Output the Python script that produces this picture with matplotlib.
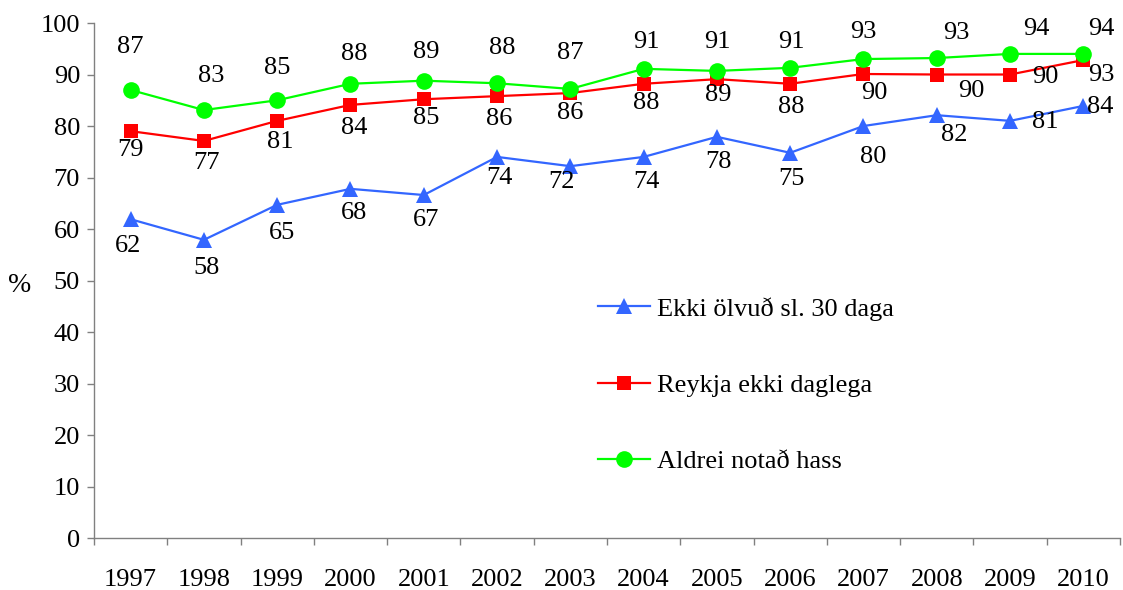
import matplotlib
matplotlib.use("Agg")
import matplotlib.pyplot as plt
import numpy as np

plt.rcParams["font.family"] = ["Liberation Serif", "DejaVu Serif"]
plt.rcParams["font.size"] = 19

years = ["1997", "1998", "1999", "2000", "2001", "2002", "2003",
         "2004", "2005", "2006", "2007", "2008", "2009", "2010"]

ekki_olvud = [61.9, 57.9, 64.7, 67.8, 66.6, 74.0, 72.2, 74.0, 77.9, 74.8, 80.0, 82.1, 81.0, 83.9]
reykja_ekki = [79.0, 77.1, 81.0, 84.1, 85.2, 85.8, 86.4, 88.2, 89.1, 88.2, 90.1, 90.0, 90.0, 92.8]
aldrei_hass = [87.0, 83.1, 85.0, 88.2, 88.8, 88.3, 87.2, 91.1, 90.7, 91.3, 93.0, 93.2, 94.0, 94.0]

# label offsets in pixels (dx right, dy down), as placed in the original
blue_off = [(-3, 27), (3, 28), (5, 28), (4, 24), (2, 25), (2, 21), (-9, 16),
            (3, 25), (2, 25), (1, 26), (10, 31), (17, 20), (35, 1), (17, 1)]
red_off = [(0, 19), (3, 22), (3, 21), (4, 23), (2, 19), (2, 23), (0, 20),
           (3, 19), (1, 16), (1, 23), (11, 19), (35, 16), (35, 2), (18, 15)]
green_off = [(0, -43), (7, -34), (0, -32), (4, -30), (2, -29), (5, -35), (0, -36),
             (3, -27), (0, -29), (1, -26), (0, -27), (20, -25), (26, -25), (18, -25)]

series = [
    ("Ekki ölvuð sl. 30 daga", ekki_olvud, "#3366FF", "^", 12, blue_off),
    ("Reykja ekki daglega", reykja_ekki, "#FF0000", "s", 10, red_off),
    ("Aldrei notað hass", aldrei_hass, "#00FF00", "o", 12, green_off),
]

fig = plt.figure(figsize=(11.23, 5.90), dpi=100)
ax = fig.add_axes([0.0837, 0.0881, 0.9136, 0.8729])

x = np.arange(len(years))
px = 72 / 100  # pixels -> points
for name, vals, col, mk, ms, offs in series:
    ax.plot(x, vals, color=col, marker=mk, markersize=ms, linewidth=1.6,
            markeredgewidth=0, label=name)
    for xi, v, (dx, dy) in zip(x, vals, offs):
        ax.annotate(f"{v:.0f}", (xi, v), xytext=(dx * px, -dy * px),
                    textcoords="offset points", ha="center", va="center",
                    fontsize=19)

ax.set_xlim(-0.5, len(years) - 0.5)
ax.set_ylim(0, 100)
ax.set_yticks(np.arange(0, 101, 10))

# ticks between categories, labels at category centres
ax.set_xticks(np.arange(-0.5, len(years), 1.0))
ax.set_xticklabels([])
ax.set_xticks(x, minor=True)
ax.set_xticklabels(years, minor=True)
ax.tick_params(axis="x", which="major", direction="out", length=5, width=1, color="#808080")
ax.tick_params(axis="x", which="minor", length=0, pad=22, labelsize=19)
ax.tick_params(axis="y", direction="out", length=5, width=1, color="#808080", pad=5, labelsize=19)

for s in ("top", "right"):
    ax.spines[s].set_visible(False)
for s in ("left", "bottom"):
    ax.spines[s].set_color("#808080")
    ax.spines[s].set_linewidth(1)

fig.text(20 / 1123, 1 - 285 / 590, "%", ha="center", va="center", fontsize=20)

ax.legend(loc="upper left", bbox_to_anchor=(0.491, 0.468), frameon=False,
          borderpad=0, borderaxespad=0, labelspacing=2.0, handlelength=1.97,
          handletextpad=0.26, fontsize=19)

fig.savefig("out.png", dpi=100)
